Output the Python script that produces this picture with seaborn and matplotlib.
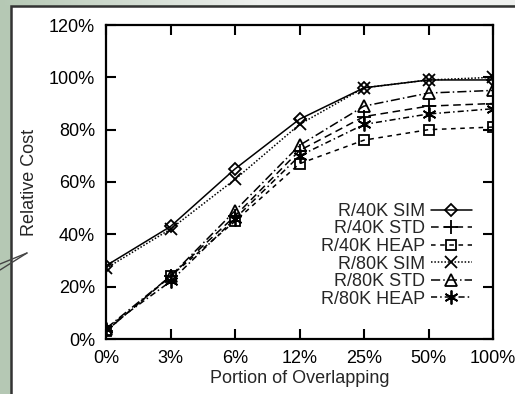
import numpy as np
import pandas as pd
import matplotlib
matplotlib.use("Agg")
import matplotlib.pyplot as plt
from matplotlib.patches import Rectangle
from matplotlib.lines import Line2D
import seaborn as sns

categories = ["0%", "3%", "6%", "12%", "25%", "50%", "100%"]
series_names = ["R/40K SIM", "R/40K STD", "R/40K HEAP", "R/80K SIM", "R/80K STD", "R/80K HEAP"]
r40k_sim = [28, 43, 65, 84, 96, 99, 99]
r40k_std = [3, 24, 47, 72, 85, 89, 90]
r40k_heap = [3, 24, 45, 67, 76, 80, 81]
r80k_sim = [27, 42, 61, 82, 96, 99, 100]
r80k_std = [4, 24, 49, 74, 89, 94, 95]
r80k_heap = [4, 22, 46, 70, 82, 86, 88]
y_ticks = [0, 20, 40, 60, 80, 100, 120]
y_tick_labels = ["0%", "20%", "40%", "60%", "80%", "100%", "120%"]

all_series = [r40k_sim, r40k_std, r40k_heap, r80k_sim, r80k_std, r80k_heap]
rows = []
for name, vals in zip(series_names, all_series):
    for i, v in enumerate(vals):
        rows.append({"pos": i, "cost": v, "series": name})
df = pd.DataFrame(rows)

sns.set_style("white")
plt.rcParams["font.family"] = ["Liberation Sans", "DejaVu Sans"]

W, H = 515, 394
fig = plt.figure(figsize=(W / 100, H / 100), dpi=100)

# background (slide-like)
bg_ax = fig.add_axes([0, 0, 1, 1], zorder=-10)
green = np.array([181, 200, 180]) / 255.0
light = np.array([238, 240, 238]) / 255.0
img = np.tile(green, (H, W, 1))
t = np.clip(np.linspace(0, 1, W) * 2.0, 0, 1)[:, None]
img[0:5, :, :] = (green * (1 - t) + light * t)[None, :, :]
bg_ax.imshow(img, extent=[0, W, H, 0], aspect="auto", interpolation="nearest")
bg_ax.set_xlim(0, W)
bg_ax.set_ylim(H, 0)
bg_ax.axis("off")
bg_ax.add_patch(Rectangle((11, 6), 600, 500, facecolor="white", edgecolor="#333333", linewidth=1.8))
bg_ax.add_line(Line2D([0, 27], [264, 253], color="#444444", lw=1.0))
bg_ax.add_line(Line2D([0, 27], [270, 253], color="#444444", lw=1.0))

ax = fig.add_axes([106 / W, 1 - 339 / H, (493 - 106) / W, (339 - 25) / H])
ax.set_facecolor("white")

markers = {
    "R/40K SIM": "D",
    "R/40K STD": "+",
    "R/40K HEAP": "s",
    "R/80K SIM": "x",
    "R/80K STD": "^",
    "R/80K HEAP": (6, 2, 0),
}
msizes = {"R/40K SIM": 6.5, "R/40K STD": 10, "R/40K HEAP": 7.5,
          "R/80K SIM": 8, "R/80K STD": 8, "R/80K HEAP": 10}
linestyles = {
    "R/40K SIM": "-",
    "R/40K STD": (0, (5, 3)),
    "R/40K HEAP": (0, (3, 3)),
    "R/80K SIM": (0, (1, 1.2)),
    "R/80K STD": (0, (6, 2, 1, 2)),
    "R/80K HEAP": (0, (4, 2, 1, 2)),
}
for name in series_names:
    sub = df[df["series"] == name]
    sns.lineplot(data=sub, x="pos", y="cost", color="black", linewidth=1.1,
                 linestyle=linestyles[name], marker=markers[name],
                 markersize=msizes[name], markerfacecolor="none",
                 markeredgecolor="black", markeredgewidth=1.3,
                 label=name, ax=ax)

FS = 13
ax.set_xlim(0, len(categories) - 1)
ax.set_ylim(0, 120)
ax.set_xticks(range(len(categories)))
ax.set_xticklabels(categories)
ax.set_yticks(y_ticks)
ax.set_yticklabels(y_tick_labels)
for s in ax.spines.values():
    s.set_visible(True)
    s.set_color("black")
    s.set_linewidth(1.6)
ax.tick_params(direction="in", length=7, width=1.5, labelsize=FS, colors="black",
               top=True, right=True, bottom=True, left=True)
ax.tick_params(axis="x", pad=8)
ax.tick_params(axis="y", pad=8)
ax.set_xlabel("Portion of Overlapping", fontsize=FS, labelpad=2)
ax.set_ylabel("Relative Cost", fontsize=FS, labelpad=8)

handles, labels = ax.get_legend_handles_labels()
ax.legend(handles, labels, loc="lower right", bbox_to_anchor=(0.946, 0.1),
          markerfirst=False, frameon=False, handlelength=2.3, handletextpad=0.3,
          labelspacing=0.03, borderpad=0, borderaxespad=0, fontsize=FS)

fig.savefig("out.png", dpi=100)
